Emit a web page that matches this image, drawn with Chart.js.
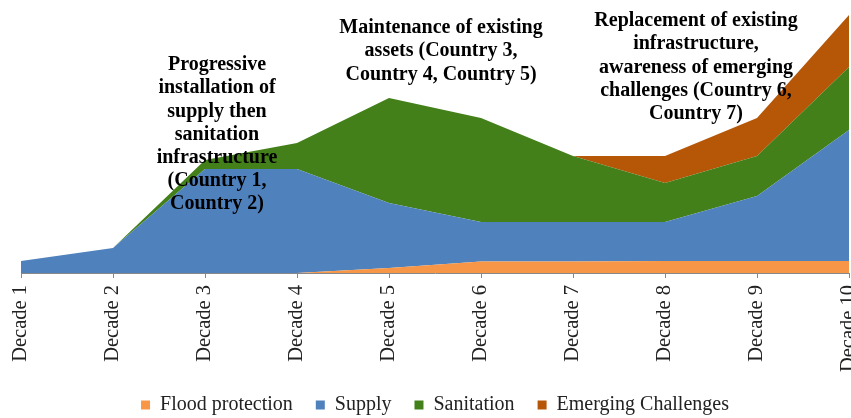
<!DOCTYPE html>
<html>
<head>
<meta charset="utf-8">
<script src="https://cdn.jsdelivr.net/npm/chart.js@4.4.1/dist/chart.umd.min.js"></script>
<style>
  html, body { margin: 0; padding: 0; background: #fff; overflow: hidden; }
  #wrap { position: relative; width: 851px; height: 418px; overflow: hidden; }
</style>
</head>
<body>
<div id="wrap"><canvas id="c" width="851" height="425"></canvas></div>
<script>
const categories = ["Decade 1","Decade 2","Decade 3","Decade 4","Decade 5","Decade 6","Decade 7","Decade 8","Decade 9","Decade 10"];
const floodProtection = [0, 0, 0, 0, 5, 11.5, 11.5, 12, 12, 12];
const supply = [12, 25, 104, 104, 65, 39.5, 39.5, 39, 65, 131];
const sanitation = [0, 0, 9, 26, 105, 104, 66, 39, 40, 63];
const emergingChallenges = [0, 0, 0, 0, 0, 0, 0, 27, 38, 52];
const yMax = 273;

const annotations = [
  { x: 217, y: 65, lines: ["Progressive", "installation of", "supply then", "sanitation", "infrastructure", "(Country 1,", "Country 2)"] },
  { x: 441, y: 28, lines: ["Maintenance of existing", "assets (Country 3,", "Country 4, Country 5)"] },
  { x: 696, y: 21, lines: ["Replacement of existing", "infrastructure,", "awareness of emerging", "challenges (Country 6,", "Country 7)"] }
];

const annotationPlugin = {
  id: 'annotationText',
  afterDraw(chart) {
    const ctx = chart.ctx;
    ctx.save();
    ctx.font = 'bold 20px "Liberation Serif", "Times New Roman", serif';
    ctx.fillStyle = '#000';
    ctx.textAlign = 'center';
    ctx.textBaseline = 'middle';
    annotations.forEach(a => {
      a.lines.forEach((t, i) => ctx.fillText(t, a.x, a.y + i * 23.2));
    });
    ctx.restore();
  }
};

function ds(label, data, color, fill) {
  return { label, data, backgroundColor: color, borderColor: color, borderWidth: 0,
           pointRadius: 0, pointHoverRadius: 0, fill, tension: 0 };
}

new Chart(document.getElementById('c'), {
  type: 'line',
  data: {
    labels: categories,
    datasets: [
      ds('Flood protection', floodProtection, '#F79646', 'origin'),
      ds('Supply', supply, '#4F81BD', '-1'),
      ds('Sanitation', sanitation, '#43801A', '-1'),
      ds('Emerging Challenges', emergingChallenges, '#B65708', '-1')
    ]
  },
  options: {
    responsive: false,
    animation: false,
    events: [],
    layout: { padding: { left: 21, right: 2, top: 0, bottom: 0 } },
    plugins: {
      legend: {
        position: 'bottom',
        labels: {
          boxWidth: 9, boxHeight: 9, padding: 23,
          color: '#222',
          font: { family: '"Liberation Serif", "Times New Roman", serif', size: 20 }
        }
      },
      tooltip: { enabled: false }
    },
    scales: {
      x: {
        offset: false,
        grid: { display: true, drawOnChartArea: false, drawTicks: true, tickLength: 5, color: '#888', tickColor: '#888' },
        border: { display: true, color: '#888', width: 1 },
        ticks: {
          autoSkip: false, minRotation: 90, maxRotation: 90, padding: 7,
          color: '#222',
          font: { family: '"Liberation Serif", "Times New Roman", serif', size: 20.5 }
        },
        afterFit(scale) { scale.paddingLeft = 0; scale.paddingRight = 0; scale.height = 99; }
      },
      y: {
        stacked: true, display: false, min: 0, max: yMax
      }
    }
  },
  plugins: [annotationPlugin]
});
</script>
</body>
</html>
